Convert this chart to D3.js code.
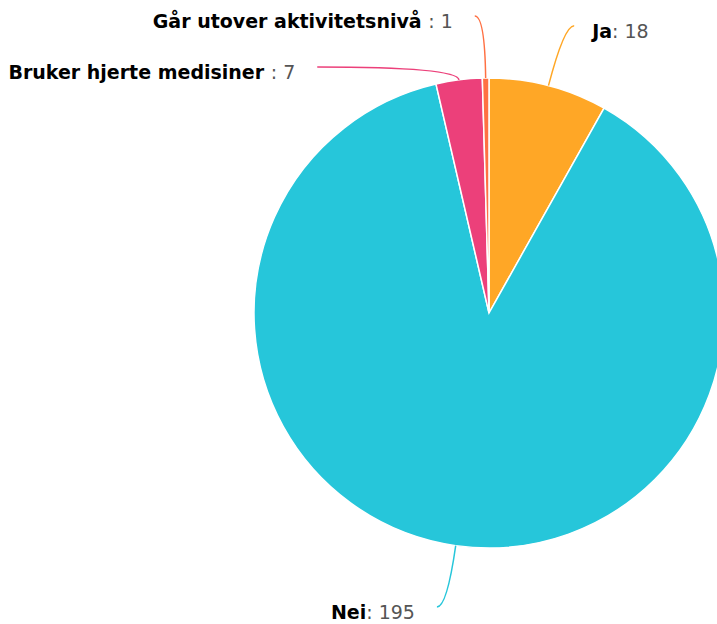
<!DOCTYPE html>
<html><head><meta charset="utf-8">
<script src="https://cdn.jsdelivr.net/npm/d3@7"></script>
<style>html,body{margin:0;padding:0;background:#fff;}svg{display:block;}</style>
</head><body>
<script>
const categories = ["Ja", "Nei", "Bruker hjerte medisiner ", "Går utover aktivitetsnivå "];
const values = [18, 195, 7, 1];
const colors = ["#FFA726", "#26C6DA", "#EC407A", "#FF7043"];

const W = 717, H = 624;
const cx = 489, cy = 313, R = 235, RL = 297, RX = 300, minGap = 51;

const svg = d3.select("body").append("svg").attr("width", W).attr("height", H)
  .style("font-family", "'DejaVu Sans', sans-serif");

const data = categories.map((c, i) => ({name: c, value: values[i], color: colors[i]}));
const pie = d3.pie().sort(null).value(d => d.value);
const arcs = pie(data);
const arc = d3.arc().innerRadius(0).outerRadius(R);

const g = svg.append("g").attr("transform", `translate(${cx},${cy})`);
g.selectAll("path.slice").data(arcs).join("path")
  .attr("class", "slice")
  .attr("d", arc)
  .attr("fill", d => d.data.color)
  .attr("stroke", "#fff").attr("stroke-width", 1.5);

// label layout
const labels = arcs.map(a => {
  const m = (a.startAngle + a.endAngle) / 2;
  return {a, m, side: Math.sin(m) >= 0 ? 1 : -1, y: -RL * Math.cos(m), shifted: false};
});
[1, -1].forEach(side => {
  const ls = labels.filter(l => l.side === side).sort((p, q) => p.y - q.y);
  for (let i = 1; i < ls.length; i++) {
    if (ls[i].y < ls[i - 1].y + minGap) { ls[i].y = ls[i - 1].y + minGap; ls[i].shifted = true; }
  }
});
labels.forEach(l => {
  const rad = l.y / -Math.cos(l.m);
  l.px = rad * Math.sin(l.m);
  l.sx = R * Math.sin(l.m);
  l.sy = -R * Math.cos(l.m);
  l.ex = l.shifted
    ? l.side * Math.sqrt(Math.max(0, RX * RX - l.y * l.y))
    : l.px + l.side * 10;
});

g.selectAll("path.tick").data(labels).join("path")
  .attr("class", "tick")
  .attr("d", l => `M${l.sx},${l.sy}Q${l.px},${l.y} ${l.ex},${l.y}`)
  .attr("fill", "none")
  .attr("stroke", l => l.a.data.color)
  .attr("stroke-width", 1.5);

const t = g.selectAll("text.lbl").data(labels).join("text")
  .attr("class", "lbl")
  .attr("x", l => l.ex + (l.side > 0 ? 18 : -22))
  .attr("y", l => l.y + 12)
  .attr("text-anchor", l => l.side > 0 ? "start" : "end")
  .style("font-size", "19px")
  .style("white-space", "pre");
t.append("tspan").attr("font-weight", "bold").attr("fill", "#000").text(l => l.a.data.name);
t.append("tspan").attr("fill", "#555").text(l => ": " + l.a.data.value);
</script>
</body></html>
